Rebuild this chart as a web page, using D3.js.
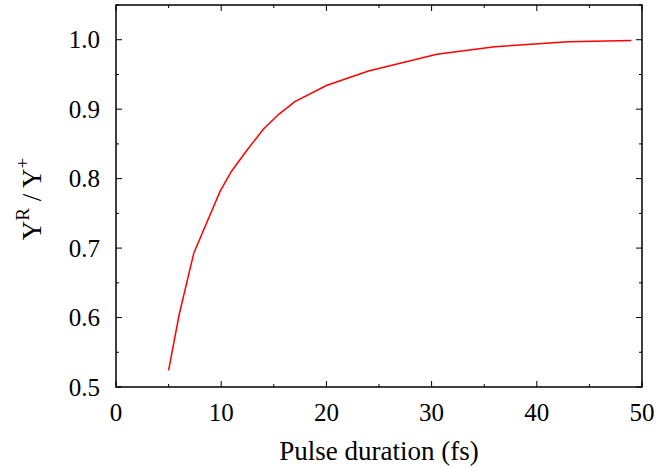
<!DOCTYPE html>
<html>
<head>
<meta charset="utf-8">
<title>ratio vs pulse duration</title>
<style>
  body { margin: 0; background: #fff; }
  text { font-family: "Liberation Serif", "Times New Roman", serif; fill: #000; }
</style>
</head>
<body>
<script src="https://d3js.org/d3.v7.min.js"></script>
<script>
// values
var duration = [5.0, 6.0, 7.4, 9.9, 11.0, 12.5, 14.0, 15.5, 17.0, 20.0, 24.0, 30.5, 36.0, 43.0, 49.0];
var ratio    = [0.524, 0.604, 0.693, 0.782, 0.811, 0.842, 0.871, 0.893, 0.911, 0.934, 0.955, 0.979, 0.990, 0.997, 0.999];
var xTicks = [0, 10, 20, 30, 40, 50];
var yTicks = [0.5, 0.6, 0.7, 0.8, 0.9, 1.0];

var width = 659, height = 468;
var pLeft = 116, pRight = 642, pTop = 5, pBottom = 387;

var svg = d3.select("body").append("svg")
    .attr("width", width).attr("height", height);

var x = d3.scaleLinear().domain([0, 50]).range([pLeft, pRight]);
var y = d3.scaleLinear().domain([0.5, 1.05]).range([pBottom, pTop]);

var pts = duration.map(function (d, i) { return [d, ratio[i]]; });

// curve
svg.append("path")
    .datum(pts)
    .attr("fill", "none")
    .attr("stroke", "#ff0000")
    .attr("stroke-width", 1.5)
    .attr("d", d3.line().x(function (d) { return x(d[0]); }).y(function (d) { return y(d[1]); }));

// ticks, inward, on all four sides
var g = svg.append("g").attr("stroke", "#000").attr("stroke-width", 1);
d3.range(0, 51, 5).forEach(function (v) {
    var len = (v % 10 === 0) ? 6 : 3;
    g.append("line").attr("x1", x(v)).attr("x2", x(v)).attr("y1", pBottom).attr("y2", pBottom - len);
    g.append("line").attr("x1", x(v)).attr("x2", x(v)).attr("y1", pTop).attr("y2", pTop + len);
});
d3.range(0, 12).forEach(function (k) {
    var v = 0.5 + k * 0.05;
    var len = (k % 2 === 0) ? 6 : 3;
    g.append("line").attr("x1", pLeft).attr("x2", pLeft + len).attr("y1", y(v)).attr("y2", y(v));
    g.append("line").attr("x1", pRight).attr("x2", pRight - len).attr("y1", y(v)).attr("y2", y(v));
});

// frame
svg.append("rect")
    .attr("x", pLeft).attr("y", pTop)
    .attr("width", pRight - pLeft).attr("height", pBottom - pTop)
    .attr("fill", "none").attr("stroke", "#000").attr("stroke-width", 1.5);

// tick labels
svg.selectAll(".xl").data(xTicks).enter().append("text")
    .attr("x", function (d) { return x(d); })
    .attr("y", 421)
    .attr("text-anchor", "middle")
    .attr("font-size", "25px")
    .text(function (d) { return d; });

svg.selectAll(".yl").data(yTicks).enter().append("text")
    .attr("x", 100)
    .attr("y", function (d) { return y(d) + 8.5; })
    .attr("text-anchor", "end")
    .attr("font-size", "25px")
    .text(function (d) { return d.toFixed(1); });

// axis titles
svg.append("text")
    .attr("x", x(25)).attr("y", 460)
    .attr("text-anchor", "middle")
    .attr("font-size", "27px")
    .text("Pulse duration (fs)");

var yt = svg.append("text")
    .attr("transform", "translate(41,199) rotate(-90)")
    .attr("text-anchor", "middle")
    .attr("font-size", "27px");
yt.append("tspan").text("Y");
yt.append("tspan").attr("font-size", "19px").attr("dy", -12).text("R");
yt.append("tspan").attr("dy", 12).text(" / Y");
yt.append("tspan").attr("font-size", "19px").attr("dy", -12).text("+");
</script>
</body>
</html>
